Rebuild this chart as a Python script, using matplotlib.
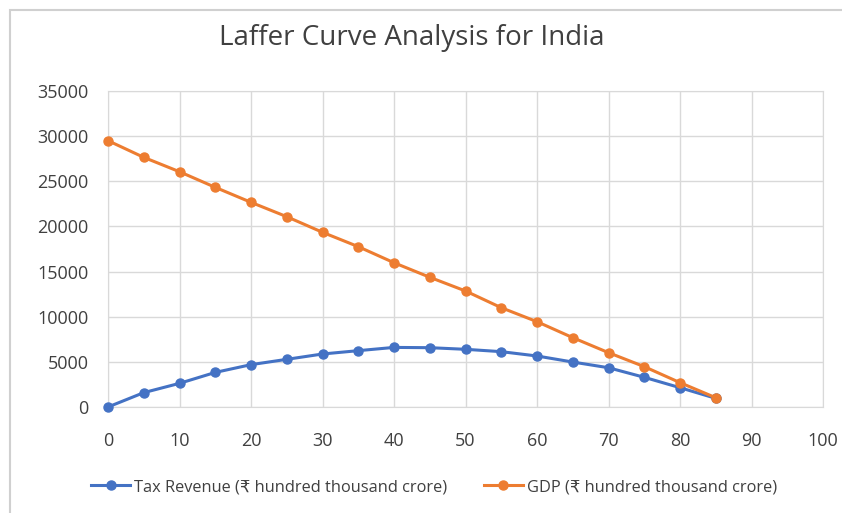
import numpy as np
import matplotlib.pyplot as plt
from matplotlib.patches import Rectangle

# tax rate (%) and the two series, hundred thousand crore rupees
tax_rate = [0, 5, 10, 15, 20, 25, 30, 35, 40, 45, 50, 55, 60, 65, 70, 75, 80, 85]
tax_revenue = [0, 1590, 2620, 3830, 4690, 5280, 5870, 6240, 6600,
               6570, 6390, 6130, 5650, 4980, 4350, 3290, 2140, 960]
gdp = [29500, 27650, 26060, 24330, 22670, 21080, 19350, 17760, 15980,
       14370, 12850, 11000, 9450, 7680, 6020, 4470, 2700, 1030]

BLUE = '#4472C4'
ORANGE = '#ED7D31'
GRID = '#D9D9D9'
TEXT = '#404040'
FONT = ['Open Sans', 'DejaVu Sans']

fig = plt.figure(figsize=(8.42, 5.13), dpi=100)
fig.patches.append(Rectangle((10/842, -0.1), 1.2, 1 - 10/513 + 0.1,
                             transform=fig.transFigure, fill=False,
                             edgecolor='#D0D0D0', linewidth=1.5))
ax = fig.add_axes([108/842, 1 - 407/513, (823 - 108)/842, (407 - 91)/513])

ax.plot(tax_rate, tax_revenue, color=BLUE, lw=2.2, marker='o', ms=6.5,
        label='Tax Revenue (\u20b9 hundred thousand crore)', clip_on=False, zorder=3)
ax.plot(tax_rate, gdp, color=ORANGE, lw=2.2, marker='o', ms=6.5,
        label='GDP (\u20b9 hundred thousand crore)', clip_on=False, zorder=3)

ax.set_xlim(0, 100)
ax.set_ylim(0, 35000)
ax.set_xticks(np.arange(0, 101, 10))
ax.set_yticks(np.arange(0, 35001, 5000))
ax.grid(True, color=GRID, lw=1)
ax.set_axisbelow(True)
for s in ax.spines.values():
    s.set_color(GRID)
ax.tick_params(length=0, colors=TEXT, labelsize=13)
ax.tick_params(axis='y', pad=14)
ax.tick_params(axis='x', pad=18)
for t in ax.get_xticklabels() + ax.get_yticklabels():
    t.set_fontfamily(FONT)

fig.text(412/842, 1 - 38/513, 'Laffer Curve Analysis for India', ha='center', va='center',
         fontsize=20, color=TEXT, family=FONT)

leg = fig.legend(loc='center', bbox_to_anchor=(434/842, 1 - 487/513), ncol=2,
                 frameon=False, prop={'family': FONT, 'size': 11.8},
                 handlelength=2.4, handletextpad=0.25, columnspacing=2.2)
for t in leg.get_texts():
    t.set_color(TEXT)

fig.savefig('out.png', dpi=100)
